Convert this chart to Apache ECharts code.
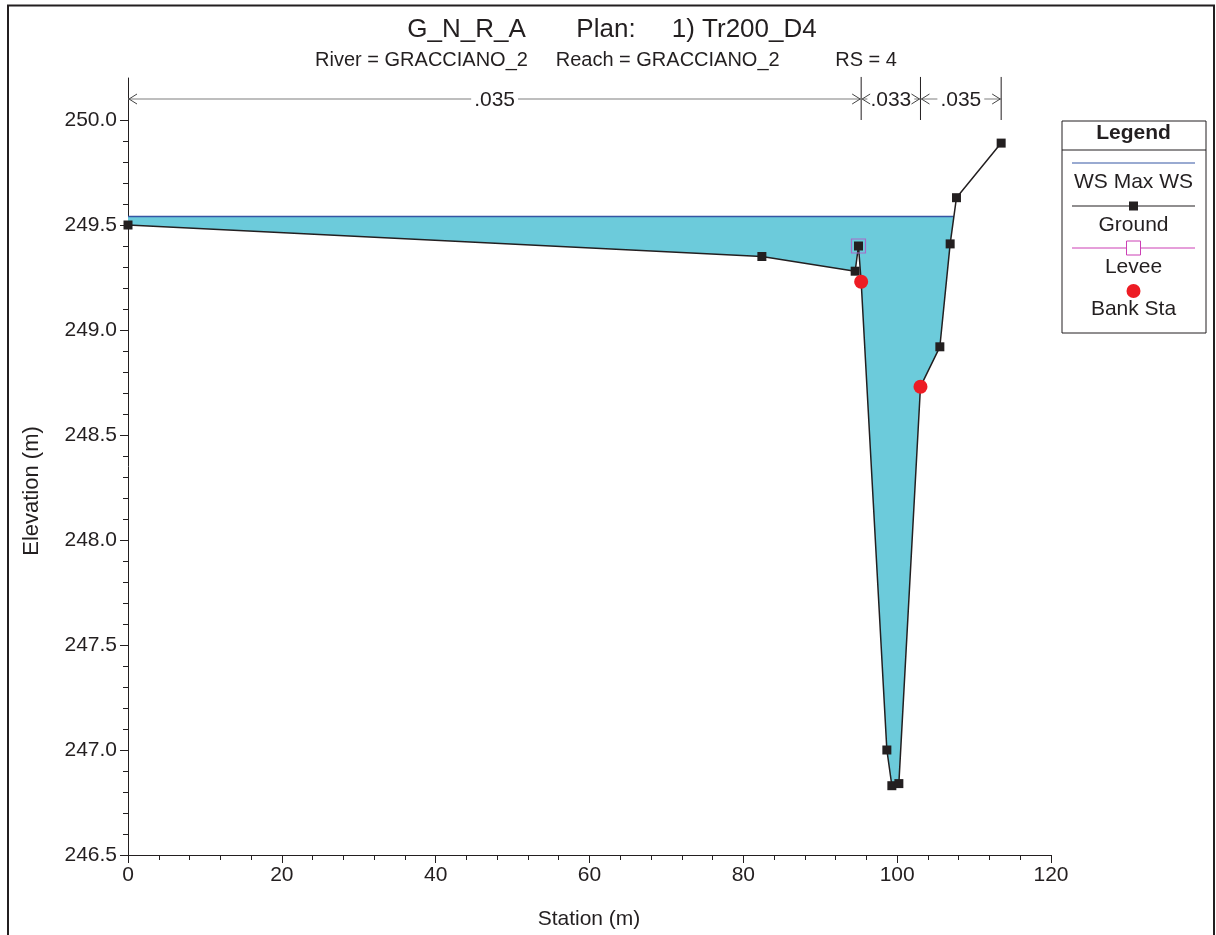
<!DOCTYPE html>
<html><head><meta charset="utf-8">
<script src="https://cdn.jsdelivr.net/npm/echarts@6.0.0/dist/echarts.min.js"></script>
<style>html,body{margin:0;padding:0;background:#fff}#c{width:1216px;height:935px}</style>
</head><body><div id="c"></div>
<script>
// ---- data ----
const stations   = [0, 82.41, 94.54, 94.97, 95.32, 98.66, 99.31, 100.22, 103.03, 105.55, 106.89, 107.71, 113.52];
const elevations = [249.50, 249.35, 249.28, 249.40, 249.23, 247.00, 246.83, 246.84, 248.73, 248.92, 249.41, 249.63, 249.89];
const wsMaxElevation = 249.54;
const leveeStations = [94.97];
const leveeElevations = [249.40];
const bankStations = [95.32, 103.03];
const bankElevations = [249.23, 248.73];
const manningN = ['.035', '.033', '.035'];
const manningBreaks = [0, 95.32, 103.03, 113.52];
const yMajorTicks = [246.5, 247.0, 247.5, 248.0, 248.5, 249.0, 249.5, 250.0];
const yMinorTicks = [246.6,246.7,246.8,246.9,247.1,247.2,247.3,247.4,247.6,247.7,247.8,247.9,248.1,248.2,248.3,248.4,248.6,248.7,248.8,248.9,249.1,249.2,249.3,249.4,249.6,249.7,249.8,249.9];
const xTickValues = [0, 20, 40, 60, 80, 100, 120];

const FONT = "'Liberation Sans', Arial, Helvetica, sans-serif";
const INK = '#231f20';

// ---- derived ----
const ground = stations.map((s, i) => [s, elevations[i]]);
let xRight = stations[stations.length - 1];
for (let i = stations.length - 2; i >= 0; i--) {
  if (elevations[i] < wsMaxElevation && elevations[i + 1] >= wsMaxElevation) {
    const t = (wsMaxElevation - elevations[i]) / (elevations[i + 1] - elevations[i]);
    xRight = stations[i] + t * (stations[i + 1] - stations[i]);
    break;
  }
}
const waterPoly = [[stations[0], wsMaxElevation], [xRight, wsMaxElevation]];
for (let i = stations.length - 1; i >= 0; i--) {
  if (stations[i] < xRight) waterPoly.push([stations[i], elevations[i]]);
}
const manningSegs = manningN.map((n, i) => [manningBreaks[i], manningBreaks[i + 1], i]);

const chart = echarts.init(document.getElementById('c'), null, { renderer: 'canvas' });

const lx = 1133.5;
const option = {
  animation: false,
  backgroundColor: '#fff',
  textStyle: { fontFamily: FONT },
  grid: { left: 128, right: 165, top: 78, bottom: 80, containLabel: false, outerBoundsMode: 'none' },
  xAxis: {
    type: 'value', min: 0, max: 120, interval: 20,
    axisLine: { onZero: false, lineStyle: { color: INK, width: 1 } },
    axisTick: { show: true, length: 8, lineStyle: { color: INK } },
    minorTick: { show: true, splitNumber: 5, length: 5, lineStyle: { color: INK } },
    axisLabel: { color: INK, fontSize: 21, fontFamily: FONT, margin: 10 },
    splitLine: { show: false }
  },
  yAxis: [{
    type: 'value', min: 246.5, max: 250.2, interval: 0.5,
    axisLine: { show: true, lineStyle: { color: INK, width: 1 } },
    axisTick: { show: true, length: 8, lineStyle: { color: INK }, customValues: yMajorTicks },
    axisLabel: { color: INK, fontSize: 21, fontFamily: FONT, margin: 11, customValues: yMajorTicks,
      formatter: v => Number(v).toFixed(1) },
    splitLine: { show: false }
  }, {
    type: 'value', min: 246.5, max: 250.2, interval: 0.5, position: 'left',
    axisLine: { show: false },
    axisTick: { show: true, length: 5, lineStyle: { color: INK }, customValues: yMinorTicks },
    axisLabel: { show: false },
    splitLine: { show: false }
  }],
  series: [
    {
      type: 'custom', name: 'water', z: 1, silent: true,
      data: [0],
      renderItem: (params, api) => ({
        type: 'polygon',
        shape: { points: waterPoly.map(p => api.coord(p)) },
        style: { fill: '#6ccbdb', stroke: null }
      })
    },
    {
      type: 'line', name: 'WS Max WS', z: 3, symbol: 'none',
      data: [[stations[0], wsMaxElevation], [xRight, wsMaxElevation]],
      lineStyle: { color: '#3556a3', width: 1.5 }
    },
    {
      type: 'line', name: 'Ground', z: 4, symbol: 'rect', symbolSize: 9,
      data: ground,
      lineStyle: { color: INK, width: 1.5 },
      itemStyle: { color: INK, opacity: 1 }
    },
    {
      type: 'scatter', name: 'Levee', z: 5, symbol: 'rect', symbolSize: 14,
      data: leveeStations.map((s, i) => [s, leveeElevations[i]]),
      itemStyle: { color: 'rgba(0,0,0,0)', borderColor: '#a86cc8', borderWidth: 1.2, opacity: 1 }
    },
    {
      type: 'scatter', name: 'Bank Sta', z: 6, symbol: 'circle', symbolSize: 14,
      data: bankStations.map((s, i) => [s, bankElevations[i]]),
      itemStyle: { color: '#ed1c24', opacity: 1 }
    },
    {
      type: 'custom', name: 'manning', z: 7, silent: true, clip: false,
      data: manningSegs,
      renderItem: (params, api) => {
        const a = api.coord([api.value(0), 250.1]);
        const b = api.coord([api.value(1), 250.1]);
        const top = api.coord([api.value(1), 250.205])[1];
        const bot = api.coord([api.value(1), 250.0])[1];
        const y = a[1];
        const label = manningN[api.value(2)];
        const grey = '#7f7f7f';
        return {
          type: 'group',
          children: [
            { type: 'line', shape: { x1: a[0], y1: y, x2: b[0], y2: y }, style: { stroke: grey, lineWidth: 1.2 } },
            { type: 'text', style: { text: label, x: (a[0] + b[0]) / 2, y: y + 1, align: 'center', verticalAlign: 'middle',
                font: '21px ' + FONT, fill: INK, backgroundColor: '#fff', padding: [0, 3] } },
            { type: 'polyline', shape: { points: [[a[0] + 9, y - 5], [a[0] + 1, y], [a[0] + 9, y + 5]] }, style: { stroke: '#444', lineWidth: 1, fill: null } },
            { type: 'polyline', shape: { points: [[b[0] - 9, y - 5], [b[0] - 1, y], [b[0] - 9, y + 5]] }, style: { stroke: '#444', lineWidth: 1, fill: null } },
            { type: 'line', shape: { x1: b[0], y1: top, x2: b[0], y2: bot }, style: { stroke: INK, lineWidth: 1 } }
          ]
        };
      }
    }
  ],
  graphic: [
    { type: 'rect', shape: { x: 8, y: 5.5, width: 1206, height: 945 }, style: { fill: null, stroke: INK, lineWidth: 2 }, z: 0, silent: true },
    { type: 'text', style: { text: 'G_N_R_A       Plan:     1) Tr200_D4', x: 612, y: 30, align: 'center', verticalAlign: 'middle', font: '26px ' + FONT, fill: INK } },
    { type: 'text', style: { text: 'River = GRACCIANO_2     Reach = GRACCIANO_2          RS = 4', x: 606, y: 60, align: 'center', verticalAlign: 'middle', font: '20px ' + FONT, fill: INK } },
    { type: 'text', style: { text: 'Station (m)', x: 589, y: 919, align: 'center', verticalAlign: 'middle', font: '21px ' + FONT, fill: INK } },
    { type: 'text', rotation: Math.PI / 2, x: 32, y: 491, style: { text: 'Elevation (m)', x: 0, y: 0, align: 'center', verticalAlign: 'middle', font: '22px ' + FONT, fill: INK } },
    { type: 'rect', shape: { x: 1062, y: 121, width: 144, height: 212 }, style: { fill: '#fff', stroke: INK, lineWidth: 1 }, z: 10 },
    { type: 'line', shape: { x1: 1062, y1: 150, x2: 1206, y2: 150 }, style: { stroke: INK, lineWidth: 1 }, z: 11 },
    { type: 'text', style: { text: 'Legend', x: lx, y: 133, align: 'center', verticalAlign: 'middle', font: 'bold 21px ' + FONT, fill: INK }, z: 11 },
    { type: 'line', shape: { x1: 1072, y1: 163, x2: 1195, y2: 163 }, style: { stroke: '#3556a3', lineWidth: 1.2 }, z: 11 },
    { type: 'text', style: { text: 'WS Max WS', x: lx, y: 182, align: 'center', verticalAlign: 'middle', font: '21px ' + FONT, fill: INK }, z: 11 },
    { type: 'line', shape: { x1: 1072, y1: 206, x2: 1195, y2: 206 }, style: { stroke: INK, lineWidth: 1.2 }, z: 11 },
    { type: 'rect', shape: { x: lx - 4.5, y: 201.5, width: 9, height: 9 }, style: { fill: INK }, z: 12 },
    { type: 'text', style: { text: 'Ground', x: lx, y: 225, align: 'center', verticalAlign: 'middle', font: '21px ' + FONT, fill: INK }, z: 11 },
    { type: 'line', shape: { x1: 1072, y1: 248, x2: 1195, y2: 248 }, style: { stroke: '#cc3fb5', lineWidth: 1 }, z: 11 },
    { type: 'rect', shape: { x: lx - 7, y: 241, width: 14, height: 14 }, style: { fill: '#fff', stroke: '#cc3fb5', lineWidth: 1 }, z: 12 },
    { type: 'text', style: { text: 'Levee', x: lx, y: 267, align: 'center', verticalAlign: 'middle', font: '21px ' + FONT, fill: INK }, z: 11 },
    { type: 'circle', shape: { cx: lx, cy: 291, r: 7 }, style: { fill: '#ed1c24' }, z: 12 },
    { type: 'text', style: { text: 'Bank Sta', x: lx, y: 309, align: 'center', verticalAlign: 'middle', font: '21px ' + FONT, fill: INK }, z: 11 }
  ]
};
chart.setOption(option);
</script>
</body></html>
